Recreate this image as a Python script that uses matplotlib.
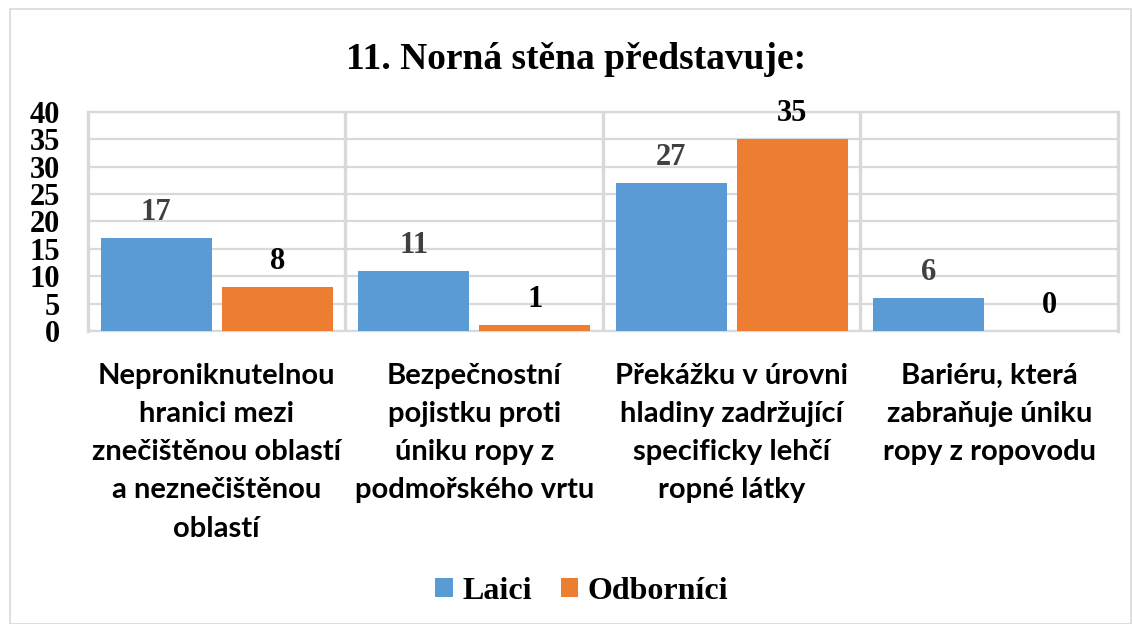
import matplotlib.pyplot as plt
import numpy as np
from matplotlib.patches import Rectangle

# data
categories = [
    "Neproniknutelnou\nhranici mezi\nznečištěnou oblastí\na neznečištěnou\noblastí",
    "Bezpečnostní\npojistku proti\núniku ropy z\npodmořského vrtu",
    "Překážku v úrovni\nhladiny zadržující\nspecificky lehčí\nropné látky",
    "Bariéru, která\nzabraňuje úniku\nropy z ropovodu",
]
laici = [17, 11, 27, 6]
odbornici = [8, 1, 35, 0]
series_names = ["Laici", "Odborníci"]
title = "11. Norná stěna představuje:"

BLUE = "#5B9BD5"
ORANGE = "#ED7D31"
GRID = "#D9D9D9"
SERIF = "Liberation Serif"

fig = plt.figure(figsize=(11.32, 6.24), dpi=100)
fig.patches.append(Rectangle((0.009, 0.0), 0.99, 0.985, transform=fig.transFigure,
                             fill=False, edgecolor=GRID, linewidth=1.2))
ax = fig.add_axes([0.0777, 0.4696, 0.9099, 0.3509])

x = np.arange(len(categories))
w = 0.43
off = 0.235
b1 = ax.bar(x - off, laici, w, color=BLUE, label=series_names[0], zorder=3)
b2 = ax.bar(x + off, odbornici, w, color=ORANGE, label=series_names[1], zorder=3)

ax.set_xlim(-0.5, len(categories) - 0.5)
ax.set_ylim(0, 40)
ax.set_yticks(range(0, 41, 5))
ax.yaxis.grid(True, color=GRID, linewidth=1.6, zorder=0)
for xb in np.arange(0.5, len(categories) - 0.5, 1):
    ax.axvline(xb, color=GRID, linewidth=2.4, zorder=1)
for s in ["left", "right"]:
    ax.spines[s].set_color(GRID)
    ax.spines[s].set_linewidth(2.4)
ax.spines["top"].set_color(GRID)
ax.spines["top"].set_linewidth(1.6)
ax.spines["bottom"].set_color(GRID)
ax.spines["bottom"].set_linewidth(1.6)

ax.tick_params(axis="y", length=0, pad=20)
for lab in ax.get_yticklabels():
    lab.set_fontfamily(SERIF)
    lab.set_fontweight("bold")
    lab.set_fontsize(22)

ax.set_xticks(x)
ax.set_xticklabels(categories, fontfamily="Lato", fontweight="bold", fontsize=21,
                   linespacing=1.58)
ax.tick_params(axis="x", length=0, pad=23)

for bars, col in [(b1, "#404040"), (b2, "black")]:
    for r in bars:
        ax.annotate(f"{int(r.get_height())}", (r.get_x() + r.get_width() / 2, r.get_height()),
                    xytext=(0, 8), textcoords="offset points", ha="center", va="bottom",
                    fontfamily=SERIF, fontweight="bold", fontsize=22, color=col)

fig.text(0.509, 0.905, title, ha="center", va="center", fontfamily=SERIF,
         fontweight="bold", fontsize=27)

leg = fig.legend(handles=[b1, b2], loc="center", bbox_to_anchor=(0.514, 0.052), ncol=2,
                 frameon=False, prop={"family": SERIF, "weight": "bold", "size": 23},
                 handlelength=0.55, handleheight=0.55, handletextpad=0.3, columnspacing=0.9)

fig.savefig("out.png", dpi=100)
